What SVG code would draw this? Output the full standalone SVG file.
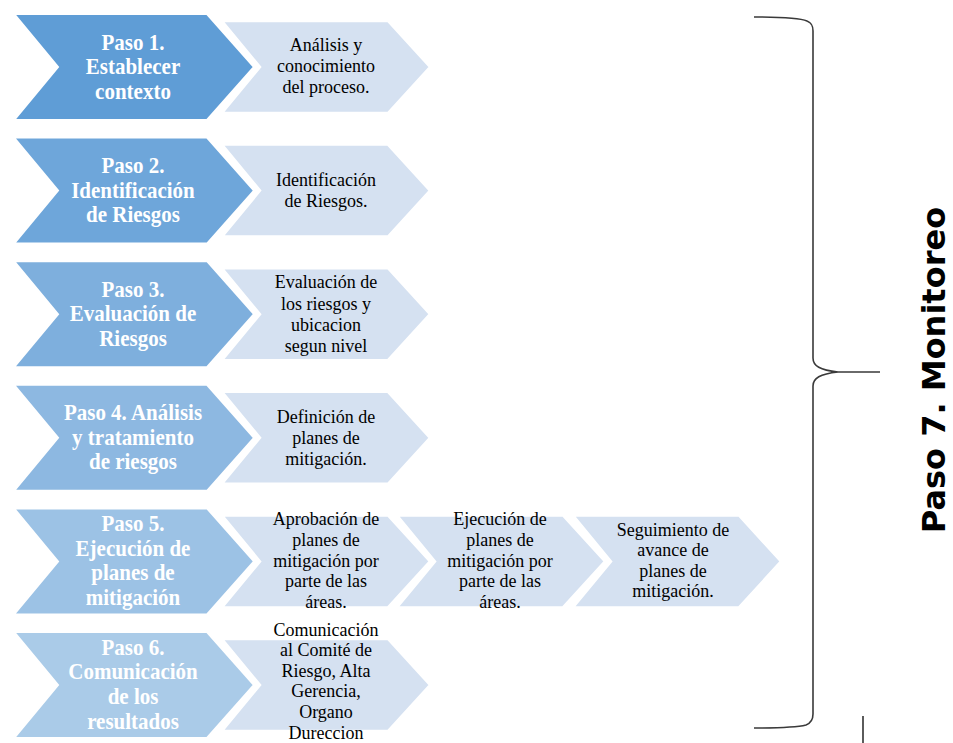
<svg xmlns="http://www.w3.org/2000/svg" width="953" height="743" viewBox="0 0 953 743">
<style>
.lt{fill:#d5e1f1;stroke:#ffffff;stroke-width:2.5;stroke-linejoin:miter}
.dk{stroke:#ffffff;stroke-width:2}
.dt{font-family:"Liberation Serif","Times New Roman",serif;font-weight:bold;font-size:21px;fill:#ffffff;text-anchor:middle}
.tt{font-family:"Liberation Serif","Times New Roman",serif;font-size:18px;fill:#000000;text-anchor:middle}
.br{fill:none;stroke:#3a3a3a;stroke-width:1.6}
.side{font-family:"DejaVu Sans",Verdana,sans-serif;font-weight:bold;font-size:32px;fill:#000000;text-anchor:middle}
</style>
<defs>
<path id="light" d="M0,-46 L166,-46 L208,0 L166,46 L0,46 L38,0 Z"/>
<path id="dark" d="M14,-53 L207,-53 L254,0 L207,53 L14,53 L58,0 Z"/>
</defs>

<g id="step1" transform="translate(0,67)">
  <use href="#light" class="lt" x="222"/>
  <use href="#dark" class="dk" fill="#5f9dd6"/>
  <g transform="translate(133,0) scale(1,1.12)"><text class="dt"><tspan x="0" y="-15.6">Paso 1.</tspan><tspan x="0" y="6.3">Establecer</tspan><tspan x="0" y="28.2">contexto</tspan></text></g>
  <text class="tt"><tspan x="326" y="-16.3">Análisis y</tspan><tspan x="326" y="5">conocimiento</tspan><tspan x="326" y="26.3">del proceso.</tspan></text>
</g>

<g id="step2" transform="translate(0,190.6)">
  <use href="#light" class="lt" x="222"/>
  <use href="#dark" class="dk" fill="#6ea6da"/>
  <g transform="translate(133,0) scale(1,1.12)"><text class="dt"><tspan x="0" y="-15.6">Paso 2.</tspan><tspan x="0" y="6.3">Identificación</tspan><tspan x="0" y="28.2">de Riesgos</tspan></text></g>
  <text class="tt"><tspan x="326" y="-4.6">Identificación</tspan><tspan x="326" y="16.6">de Riesgos.</tspan></text>
</g>

<g id="step3" transform="translate(0,314.2)">
  <use href="#light" class="lt" x="222"/>
  <use href="#dark" class="dk" fill="#7eafdd"/>
  <g transform="translate(133,0) scale(1,1.12)"><text class="dt"><tspan x="0" y="-15.6">Paso 3.</tspan><tspan x="0" y="6.3">Evaluación de</tspan><tspan x="0" y="28.2">Riesgos</tspan></text></g>
  <text class="tt"><tspan x="326" y="-26">Evaluación de</tspan><tspan x="326" y="-4.7">los riesgos y</tspan><tspan x="326" y="16.6">ubicacion</tspan><tspan x="326" y="38">segun nivel</tspan></text>
</g>

<g id="step4" transform="translate(0,437.8)">
  <use href="#light" class="lt" x="222"/>
  <use href="#dark" class="dk" fill="#8db8e1"/>
  <g transform="translate(133,0) scale(1,1.12)"><text class="dt"><tspan x="0" y="-15.6">Paso 4. Análisis</tspan><tspan x="0" y="6.3">y tratamiento</tspan><tspan x="0" y="28.2">de riesgos</tspan></text></g>
  <text class="tt"><tspan x="326" y="-15.3">Definición de</tspan><tspan x="326" y="6">planes de</tspan><tspan x="326" y="27.3">mitigación.</tspan></text>
</g>

<g id="step5" transform="translate(0,561.4)">
  <use href="#light" class="lt" x="222"/>
  <use href="#light" class="lt" x="397"/>
  <use href="#light" class="lt" x="573"/>
  <use href="#dark" class="dk" fill="#9cc2e5"/>
  <g transform="translate(133,0) scale(1,1.12)"><text class="dt"><tspan x="0" y="-27">Paso 5.</tspan><tspan x="0" y="-5">Ejecución de</tspan><tspan x="0" y="17">planes de</tspan><tspan x="0" y="39">mitigación</tspan></text></g>
  <text class="tt"><tspan x="326" y="-36">Aprobación de</tspan><tspan x="326" y="-15.4">planes de</tspan><tspan x="326" y="5.2">mitigación por</tspan><tspan x="326" y="25.8">parte de las</tspan><tspan x="326" y="46.4">áreas.</tspan></text>
  <text class="tt"><tspan x="500" y="-36">Ejecución de</tspan><tspan x="500" y="-15.4">planes de</tspan><tspan x="500" y="5.2">mitigación por</tspan><tspan x="500" y="25.8">parte de las</tspan><tspan x="500" y="46.4">áreas.</tspan></text>
  <text class="tt"><tspan x="673" y="-25.7">Seguimiento de</tspan><tspan x="673" y="-5.1">avance de</tspan><tspan x="673" y="15.5">planes de</tspan><tspan x="673" y="36.1">mitigación.</tspan></text>
</g>

<g id="step6" transform="translate(0,685)">
  <use href="#light" class="lt" x="222"/>
  <use href="#dark" class="dk" fill="#aacbe8"/>
  <g transform="translate(133,0) scale(1,1.12)"><text class="dt"><tspan x="0" y="-27">Paso 6.</tspan><tspan x="0" y="-5">Comunicación</tspan><tspan x="0" y="17">de los</tspan><tspan x="0" y="39">resultados</tspan></text></g>
  <text class="tt"><tspan x="326" y="-49.5">Comunicación</tspan><tspan x="326" y="-28.9">al Comité de</tspan><tspan x="326" y="-8.3">Riesgo, Alta</tspan><tspan x="326" y="12.3">Gerencia,</tspan><tspan x="326" y="32.9">Organo</tspan><tspan x="326" y="53.5">Dureccion</tspan></text>
</g>

<g id="step7">
  <path class="br" d="M754,17 C785,17 800,18 807,21 C812,23 813,26 813,31 L813,358 C813,366 820,370 838,372 L880,372 M838,372 C820,374 813,378 813,386 L813,714 C813,720 811,723 806,725 C798,727 785,728 754,728"/>
  <text class="side" transform="translate(945,370) rotate(-90)">Paso 7. Monitoreo</text>
  <line x1="863" y1="716" x2="863" y2="743" stroke="#333333" stroke-width="1.6"/>
</g>
</svg>
